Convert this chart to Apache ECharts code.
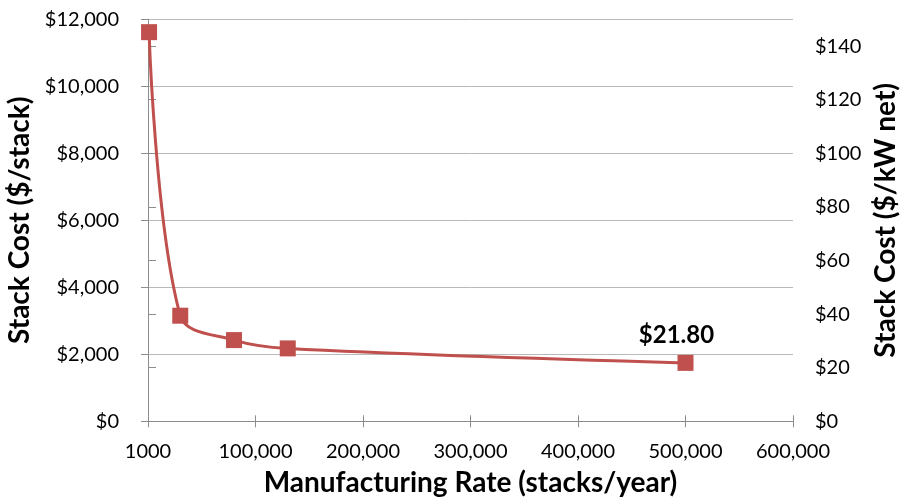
<!DOCTYPE html>
<html>
<head>
<meta charset="utf-8">
<script src="https://cdn.jsdelivr.net/npm/echarts@6/dist/echarts.min.js"></script>
<style>
  html, body { margin: 0; padding: 0; background: #fff; }
  #chart { width: 900px; height: 504px; }
</style>
</head>
<body>
<div id="chart"></div>
<script>
// Manufacturing rate (stacks/year) and stack cost ($/kW net)
const rates = [1000, 30000, 80000, 130000, 500000];
const costPerKW = [145.2, 39.4, 30.3, 27.2, 21.80];

// Axis ticks
const xTickValues = [0, 100000, 200000, 300000, 400000, 500000, 600000];
const xTickLabels = ['1000', '100,000', '200,000', '300,000', '400,000', '500,000', '600,000'];
const leftTickValues = [0, 2000, 4000, 6000, 8000, 10000, 12000];
const rightTickValues = [0, 20, 40, 60, 80, 100, 120, 140];

const FONT = 'Lato';
const axisGrey = '#8c8c8c';
const gridGrey = '#b9b9b9';
const red = '#c0504d';

const chart = echarts.init(document.getElementById('chart'), null, { renderer: 'canvas' });

const seriesData = rates.map((r, i) => [r, costPerKW[i]]);
const lastIdx = rates.length - 1;

const titleStyle = { fontFamily: FONT, fontSize: 28, fontWeight: 'bold', color: '#000' };
const tickFont = { fontFamily: FONT, fontSize: 20, color: '#000' };

chart.setOption({
  animation: false,
  textStyle: { fontFamily: FONT },
  grid: { left: 148, right: 107, top: 19.3, bottom: 82.7, outerBoundsMode: 'none', containLabel: false },
  xAxis: [
    {
      type: 'value', min: 0, max: 600000, interval: 100000,
      name: 'Manufacturing Rate (stacks/year)',
      nameLocation: 'middle', nameGap: 48,
      nameTextStyle: titleStyle,
      axisLine: { show: true, lineStyle: { color: axisGrey, width: 1 } },
      axisTick: { show: true, length: 6, customValues: xTickValues, lineStyle: { color: axisGrey } },
      axisLabel: Object.assign({
        customValues: xTickValues,
        formatter: v => xTickLabels[xTickValues.indexOf(v)],
        margin: 20
      }, tickFont),
      splitLine: { show: false }
    },
    {
      // inner half of the crossing tick marks on the rate axis
      type: 'value', min: 0, max: 600000, interval: 100000, position: 'bottom',
      axisLine: { show: false },
      axisTick: { show: true, inside: true, length: 6, customValues: xTickValues, lineStyle: { color: axisGrey } },
      axisLabel: { show: false },
      splitLine: { show: false }
    }
  ],
  yAxis: [
    {
      type: 'value', min: 0, max: 12000, interval: 2000, position: 'left',
      name: 'Stack Cost ($/stack)',
      nameLocation: 'middle', nameGap: 108, nameRotate: 90,
      nameTextStyle: titleStyle,
      axisLine: { show: true, lineStyle: { color: axisGrey, width: 1 } },
      axisTick: { show: true, length: 7, customValues: leftTickValues, lineStyle: { color: axisGrey } },
      axisLabel: Object.assign({
        customValues: leftTickValues,
        formatter: v => '$' + v.toLocaleString('en-US'),
        margin: 29
      }, tickFont),
      splitLine: { show: true, lineStyle: { color: gridGrey, width: 1 } }
    },
    {
      type: 'value', min: 0, max: 150, interval: 20, position: 'right',
      name: 'Stack Cost ($/kW net)',
      nameLocation: 'middle', nameGap: 79, nameRotate: 90,
      nameTextStyle: titleStyle,
      axisLine: { show: true, lineStyle: { color: axisGrey, width: 1 } },
      axisTick: { show: true, length: 8, customValues: rightTickValues, lineStyle: { color: axisGrey } },
      axisLabel: Object.assign({
        customValues: rightTickValues,
        formatter: v => '$' + v,
        margin: 22
      }, tickFont),
      splitLine: { show: false }
    }
  ],
  series: [
    {
      type: 'line',
      xAxisIndex: 0,
      yAxisIndex: 1,
      data: seriesData,
      smooth: 0.35,
      symbol: 'rect',
      symbolSize: 16,
      showAllSymbol: true,
      lineStyle: { color: red, width: 3 },
      itemStyle: { color: red, borderWidth: 0 },
      label: {
        show: true,
        position: 'top',
        distance: 8,
        offset: [-9, 0],
        fontFamily: FONT, fontSize: 24, fontWeight: 'bold', color: '#000',
        formatter: p => (p.dataIndex === lastIdx ? '$' + costPerKW[lastIdx].toFixed(2) : '')
      },
      emphasis: { disabled: true }
    }
  ]
});
</script>
</body>
</html>
